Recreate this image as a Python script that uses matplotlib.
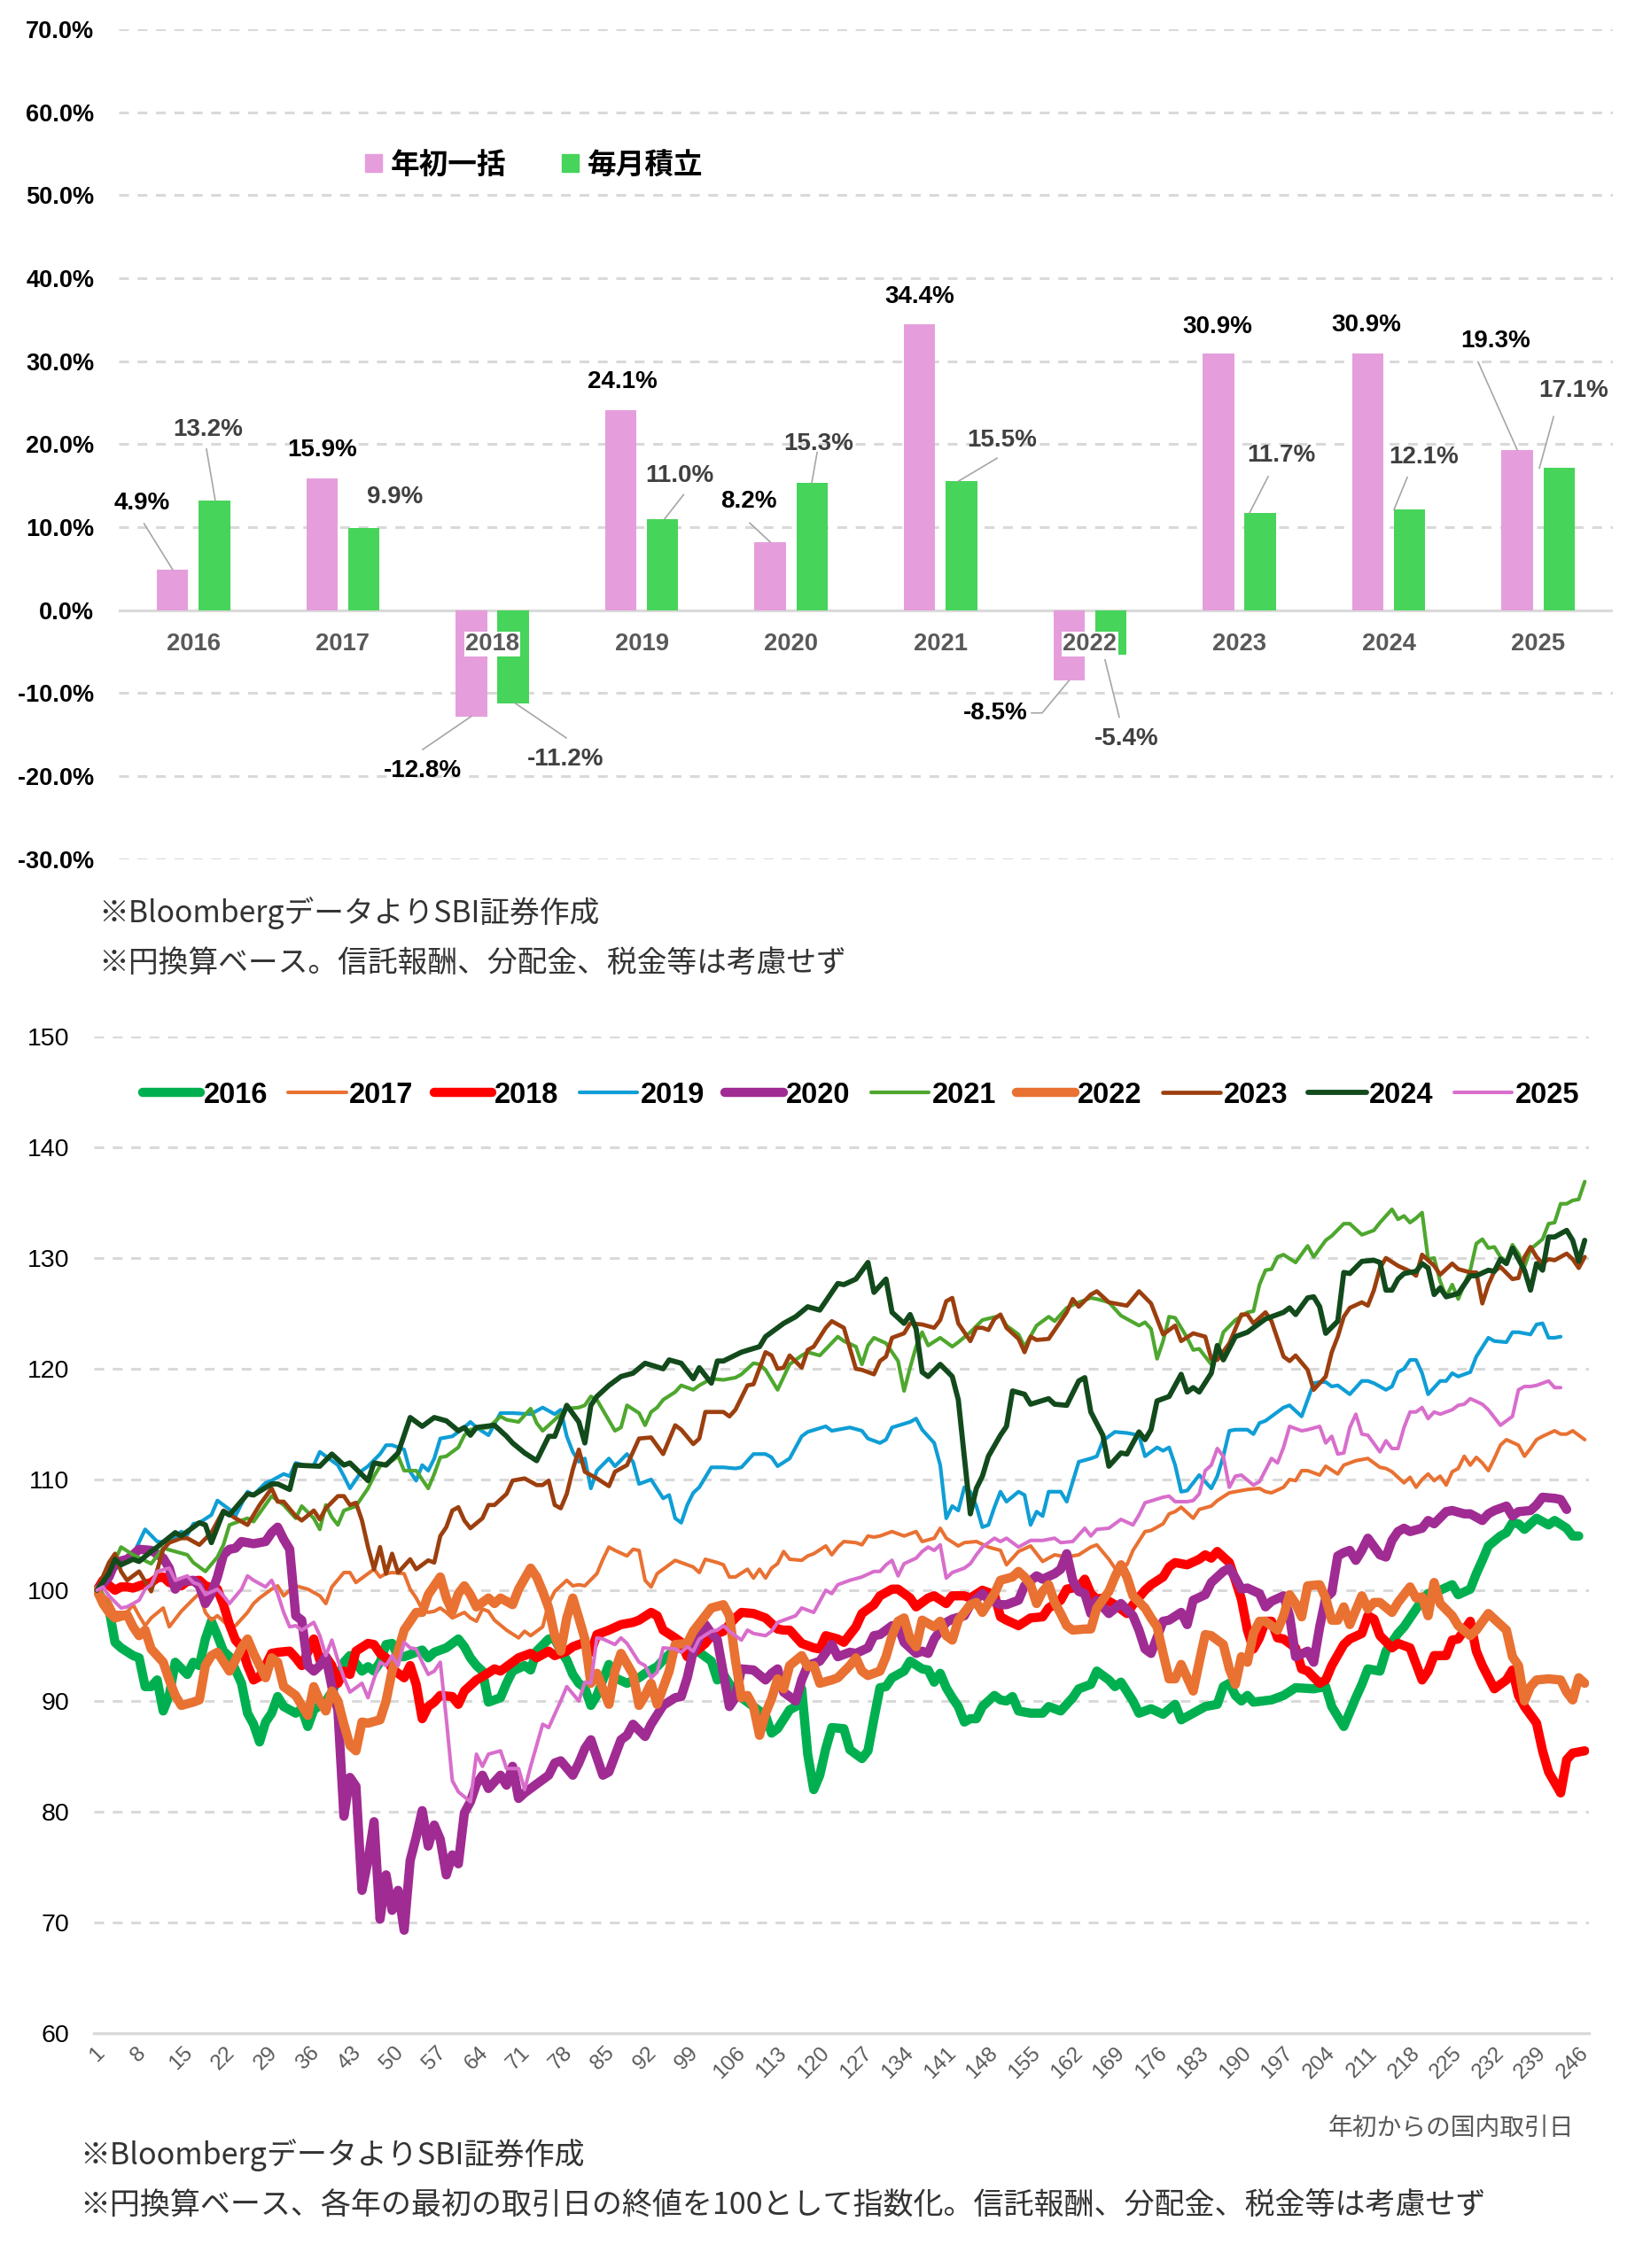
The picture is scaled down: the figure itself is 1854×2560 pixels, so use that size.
import numpy as np
import matplotlib.pyplot as plt
from matplotlib.patches import Patch
from matplotlib.lines import Line2D

plt.rcParams['font.family'] = ['Liberation Sans', 'Noto Sans CJK JP', 'DejaVu Sans']
JP = ['Noto Sans CJK JP', 'DejaVu Sans']

# ---- bar chart data (annual return, %) ----
years = ['2016', '2017', '2018', '2019', '2020', '2021', '2022', '2023', '2024', '2025']
lump_sum = [4.9, 15.9, -12.8, 24.1, 8.2, 34.4, -8.5, 30.9, 30.9, 19.3]
monthly = [13.2, 9.9, -11.2, 11.0, 15.3, 15.5, -5.4, 11.7, 12.1, 17.1]

# ---- line chart data: (trading day, index) ----
s2016 = [(1, 100), (3, 98.3), (4, 95.3), (5, 94.8), (7, 94.1), (8, 93.9), (9, 91.3), (10, 91.3), (11, 91.9),
         (12, 89.1), (13, 90.5), (14, 93.5), (16, 92.4), (17, 93.5), (18, 93.2), (19, 95.6), (20, 97.2),
         (21, 95.9), (22, 94.5), (23, 94.0), (25, 91.6), (26, 88.9), (27, 87.9), (28, 86.3), (29, 88.1),
         (30, 88.9), (31, 90.4), (32, 89.5), (34, 88.9), (35, 89.3), (36, 87.7), (37, 89.2), (39, 90.0),
         (40, 90.8), (41, 91.9), (42, 93.5), (43, 94.1), (45, 92.7), (46, 93.1), (47, 92.7), (48, 93.5),
         (49, 95.1), (50, 95.2), (51, 94.0), (52, 94.0), (54, 94.4), (55, 94.6), (56, 93.9), (57, 94.4),
         (59, 94.8), (61, 95.6), (62, 94.9), (63, 93.9), (64, 93.2), (65, 92.7), (66, 89.9), (68, 90.3),
         (69, 91.6), (70, 92.7), (72, 93.2), (73, 92.8), (74, 94.5), (76, 95.6), (77, 95.6), (78, 94.5),
         (79, 93.7), (80, 92.4), (81, 91.6), (82, 91.2), (83, 89.6), (84, 90.5), (85, 91.9), (86, 93.3),
         (87, 92.1), (89, 91.6), (91, 92.1), (92, 92.5), (94, 93.1), (95, 93.7), (97, 94.7), (98, 94.9),
         (100, 94.5), (101, 94.4), (103, 93.6), (104, 91.9), (105, 92.4), (107, 90.7), (108, 90.3),
         (110, 89.5), (112, 88.7), (113, 87.1), (114, 87.5), (116, 89.2), (117, 89.5), (118, 91.1),
         (119, 85.2), (120, 82.0), (121, 83.3), (122, 85.7), (123, 87.6), (125, 87.5), (126, 85.6),
         (127, 85.2), (128, 84.8), (129, 85.5), (130, 88.4), (131, 91.2), (132, 91.3), (133, 92.1),
         (135, 92.7), (136, 93.6), (138, 92.9), (139, 92.8), (140, 91.7), (141, 92.5), (142, 91.2),
         (143, 90.3), (144, 89.5), (145, 88.1), (146, 88.4), (147, 88.4), (148, 89.5), (150, 90.5),
         (151, 90.1), (152, 90.0), (153, 90.4), (154, 89.1), (156, 88.9), (158, 88.9), (159, 89.5),
         (161, 89.1), (163, 90.3), (164, 91.1), (166, 91.5), (167, 92.7), (169, 91.9), (170, 91.3),
         (171, 91.7), (173, 90.0), (174, 88.9), (176, 89.3), (178, 88.8), (180, 89.7), (181, 88.3),
         (183, 88.9), (185, 89.5), (187, 89.7), (188, 91.3), (189, 91.6), (190, 90.5), (191, 90.0),
         (192, 90.5), (193, 89.9), (196, 90.1), (198, 90.5), (200, 91.2), (203, 91.1), (205, 91.3),
         (206, 89.5), (208, 87.7), (210, 90.3), (211, 91.5), (212, 92.9), (214, 92.7), (215, 94.5),
         (217, 96.1), (218, 96.7), (220, 98.3), (221, 99.1), (222, 99.7), (224, 100.0), (226, 100.5),
         (227, 99.6), (229, 100.1), (230, 101.5), (231, 102.7), (232, 104.0), (234, 104.9), (235, 105.2),
         (236, 106.1), (237, 106.0), (238, 105.5), (240, 106.5), (241, 106.2), (242, 105.9), (243, 106.3),
         (245, 105.6), (246, 104.9), (247, 104.9)]

s2017 = [(1, 100), (3, 99.1), (4, 98.0), (6, 98.0), (7, 98.7), (8, 97.7), (9, 96.8), (10, 97.5), (12, 98.4),
         (13, 96.7), (15, 98.1), (17, 99.2), (18, 99.7), (19, 98.0), (20, 97.3), (21, 97.7), (22, 97.2),
         (23, 96.7), (24, 96.8), (26, 98.0), (27, 98.8), (28, 99.3), (30, 100.1), (31, 100.4), (32, 99.5),
         (33, 100.0), (34, 100.4), (36, 100.1), (38, 99.5), (39, 98.8), (40, 100.3), (42, 101.6), (43, 101.6),
         (44, 100.7), (46, 101.5), (47, 101.9), (48, 101.2), (49, 101.5), (50, 101.6), (52, 101.5),
         (53, 100.1), (54, 99.3), (55, 98.3), (56, 98.0), (57, 98.1), (58, 98.4), (59, 98.0), (60, 97.5),
         (62, 98.0), (63, 97.5), (64, 97.2), (65, 98.3), (66, 98.1), (67, 97.3), (69, 96.4), (71, 95.7),
         (72, 96.3), (73, 95.9), (75, 96.7), (76, 98.8), (77, 99.9), (79, 100.9), (80, 100.4), (81, 100.5),
         (82, 100.4), (84, 101.5), (85, 102.8), (86, 103.9), (87, 103.6), (89, 103.1), (90, 103.7),
         (91, 103.6), (92, 100.9), (93, 100.3), (94, 101.5), (96, 102.3), (97, 102.7), (99, 102.3),
         (100, 102.1), (101, 101.6), (102, 102.8), (104, 102.5), (105, 102.3), (106, 101.2), (107, 101.2),
         (109, 101.9), (110, 101.1), (111, 101.9), (112, 101.1), (113, 102.0), (114, 102.4), (115, 103.5),
         (116, 102.8), (118, 102.7), (119, 103.1), (120, 103.3), (122, 104.0), (123, 103.2), (124, 103.9),
         (125, 104.4), (127, 104.3), (128, 104.1), (129, 104.9), (130, 104.8), (131, 104.9), (133, 105.3),
         (135, 104.9), (137, 105.3), (138, 104.4), (140, 104.7), (141, 105.6), (142, 104.7), (144, 104.0),
         (145, 104.3), (147, 104.4), (149, 103.9), (151, 103.6), (152, 102.3), (154, 103.5), (156, 104.0),
         (158, 102.6), (160, 103.2), (162, 103.0), (164, 103.2), (166, 103.9), (167, 104.1), (169, 102.8),
         (170, 102.0), (171, 102.4), (172, 102.3), (173, 103.6), (175, 105.3), (176, 105.4), (178, 106.0),
         (179, 106.9), (180, 107.1), (181, 107.5), (183, 106.5), (184, 107.3), (186, 107.6), (187, 108.1),
         (189, 108.8), (190, 108.9), (192, 109.1), (194, 109.2), (195, 108.9), (196, 108.8), (198, 109.3),
         (199, 110.0), (200, 109.9), (201, 110.8), (202, 110.8), (204, 110.4), (205, 111.2), (207, 110.5),
         (208, 111.3), (210, 111.7), (211, 111.8), (212, 111.9), (214, 111.1), (215, 111.0), (216, 110.7),
         (218, 109.7), (219, 110.2), (220, 109.3), (221, 110.0), (222, 110.5), (223, 109.9), (224, 110.3),
         (225, 109.5), (226, 110.7), (227, 111.0), (228, 112.1), (229, 111.3), (230, 112.0), (231, 111.5),
         (232, 110.8), (233, 111.9), (234, 113.1), (235, 113.6), (237, 113.1), (238, 112.1), (239, 112.8),
         (240, 113.6), (241, 113.9), (243, 114.4), (244, 114.1), (245, 114.1), (246, 114.4), (247, 114.0),
         (248, 113.6)]

s2018 = [(1, 100), (2, 100.9), (4, 100.0), (5, 100.3), (6, 100.3), (7, 100.2), (8, 100.4), (10, 100.7),
         (11, 101.1), (12, 101.2), (13, 100.7), (15, 100.4), (16, 100.8), (18, 100.9), (19, 100.4),
         (21, 100.1), (22, 98.7), (23, 96.9), (24, 95.5), (25, 94.9), (26, 93.2), (27, 91.9), (28, 92.2),
         (29, 93.2), (30, 94.3), (31, 94.4), (33, 94.5), (34, 93.9), (35, 93.2), (37, 95.6), (38, 93.7),
         (39, 94.0), (40, 93.2), (41, 91.6), (42, 92.7), (43, 92.4), (44, 94.5), (46, 95.2), (47, 95.1),
         (48, 94.3), (49, 93.9), (50, 92.9), (52, 92.1), (53, 93.2), (54, 91.5), (55, 88.4), (56, 89.5),
         (57, 89.9), (58, 90.5), (60, 90.4), (61, 89.7), (62, 90.9), (64, 91.9), (65, 92.2), (67, 92.9),
         (68, 92.7), (70, 93.5), (71, 93.9), (73, 94.3), (74, 93.9), (76, 94.5), (77, 94.1), (79, 94.5),
         (80, 94.9), (81, 95.1), (82, 95.3), (83, 94.4), (84, 96.0), (86, 96.4), (88, 96.9), (90, 97.1),
         (91, 97.3), (93, 98.0), (94, 97.7), (95, 96.4), (97, 95.7), (98, 95.3), (99, 94.0), (100, 94.3),
         (102, 95.2), (103, 95.9), (105, 96.3), (107, 97.5), (108, 98.0), (110, 97.9), (112, 97.5),
         (114, 96.5), (115, 96.4), (116, 96.4), (118, 95.2), (120, 94.8), (121, 94.7), (122, 95.9),
         (124, 95.6), (125, 95.3), (127, 96.7), (128, 97.9), (130, 98.7), (131, 99.5), (133, 100.1),
         (134, 100.1), (136, 99.3), (137, 98.5), (139, 99.3), (140, 99.5), (142, 98.8), (143, 99.5),
         (145, 99.5), (146, 99.3), (148, 100.0), (150, 99.6), (151, 97.6), (152, 97.3), (154, 96.8),
         (156, 97.5), (158, 97.6), (159, 98.4), (161, 99.1), (162, 100.1), (164, 100.3), (165, 101.0),
         (166, 99.7), (167, 99.2), (168, 99.3), (170, 98.7), (172, 97.9), (173, 98.7), (175, 100.0),
         (176, 100.5), (178, 101.2), (179, 102.1), (180, 102.5), (182, 102.3), (184, 102.8), (185, 103.2),
         (186, 102.9), (187, 103.5), (189, 102.5), (190, 100.9), (191, 99.2), (192, 96.4), (193, 94.7),
         (194, 95.7), (195, 97.2), (196, 97.2), (197, 95.7), (198, 95.6), (200, 94.8), (201, 92.9),
         (202, 92.7), (204, 91.6), (205, 91.9), (206, 93.2), (208, 95.1), (209, 95.6), (211, 96.1),
         (212, 97.7), (213, 97.4), (214, 95.9), (216, 94.8), (217, 95.2), (219, 94.8), (221, 91.9),
         (222, 92.7), (223, 94.1), (225, 94.1), (226, 95.5), (227, 95.6), (229, 97.2), (230, 94.5),
         (231, 93.2), (233, 91.1), (235, 91.9), (236, 92.8), (237, 90.5), (238, 89.5), (240, 88.0),
         (241, 85.5), (242, 83.6), (244, 81.7), (245, 84.7), (246, 85.3), (248, 85.5)]

s2019 = [(1, 100), (3, 101.5), (5, 102.3), (7, 103.2), (9, 105.5), (11, 104.4), (13, 104.3), (15, 105.3),
         (16, 105.0), (17, 106.0), (18, 106.1), (20, 106.8), (21, 108.1), (23, 107.3), (24, 106.7),
         (26, 108.9), (27, 108.6), (29, 109.7), (30, 109.9), (32, 110.5), (33, 110.3), (34, 111.5),
         (36, 111.2), (37, 111.3), (38, 112.5), (39, 112.1), (41, 111.3), (42, 110.3), (43, 109.2),
         (45, 110.8), (46, 111.2), (48, 112.3), (49, 113.1), (50, 113.1), (52, 112.7), (53, 110.7),
         (54, 109.9), (55, 111.3), (56, 110.8), (57, 111.9), (58, 113.7), (60, 113.9), (62, 114.7),
         (63, 115.2), (64, 114.7), (66, 114.0), (68, 116.0), (70, 116.0), (73, 115.9), (75, 116.5),
         (77, 115.9), (78, 116.3), (79, 113.9), (80, 112.5), (81, 111.6), (82, 111.9), (83, 109.2),
         (84, 110.8), (86, 111.9), (87, 111.2), (89, 112.3), (90, 111.6), (91, 109.6), (93, 110.0),
         (95, 108.3), (96, 108.6), (97, 106.5), (98, 106.1), (99, 107.7), (100, 108.8), (101, 109.3),
         (103, 111.1), (105, 111.1), (107, 111.0), (108, 111.1), (110, 112.3), (112, 112.3), (113, 112.0),
         (114, 111.2), (116, 111.9), (118, 113.9), (119, 114.3), (122, 114.8), (123, 114.4), (126, 114.7),
         (128, 114.4), (129, 113.7), (131, 113.3), (132, 113.6), (133, 114.7), (136, 115.2), (137, 115.5),
         (138, 114.5), (140, 113.3), (141, 111.3), (142, 106.5), (143, 107.6), (144, 107.2), (145, 109.3),
         (146, 108.9), (147, 107.6), (148, 105.7), (149, 105.9), (150, 107.5), (151, 108.9), (152, 108.0),
         (154, 108.9), (155, 108.6), (156, 105.9), (157, 107.1), (158, 106.7), (159, 108.9), (161, 108.9),
         (162, 108.0), (164, 111.6), (166, 111.9), (167, 112.1), (168, 113.5), (170, 114.3), (172, 114.2),
         (174, 114.0), (175, 112.1), (177, 112.9), (178, 112.6), (179, 112.9), (180, 111.3), (181, 108.9),
         (182, 109.0), (184, 110.4), (186, 109.2), (187, 110.3), (188, 112.1), (189, 114.4), (190, 114.5),
         (192, 114.5), (193, 114.1), (194, 115.1), (195, 115.3), (197, 116.1), (198, 116.5), (199, 116.7),
         (201, 115.7), (202, 117.2), (203, 118.7), (204, 118.8), (205, 118.8), (206, 118.4), (207, 118.5),
         (209, 117.7), (211, 118.9), (212, 118.9), (213, 118.7), (215, 118.1), (216, 118.4), (217, 119.7),
         (218, 120.0), (219, 120.8), (220, 120.8), (221, 119.6), (222, 117.7), (224, 118.9), (225, 118.9),
         (226, 119.6), (227, 119.3), (229, 119.7), (230, 121.1), (232, 122.8), (233, 122.5), (235, 122.4),
         (236, 123.3), (237, 123.3), (239, 123.1), (240, 124.0), (241, 124.1), (242, 122.8), (243, 122.8),
         (244, 122.9)]

s2020 = [(1, 100), (3, 101.2), (4, 102.5), (6, 102.8), (7, 103.2), (8, 103.7), (10, 103.6), (12, 102.9),
         (13, 102.0), (14, 100.1), (15, 100.8), (17, 100.9), (18, 100.4), (19, 98.8), (20, 99.7), (21, 101.2),
         (22, 103.2), (23, 103.7), (24, 103.8), (25, 104.4), (27, 104.2), (29, 104.4), (30, 105.2),
         (31, 105.7), (32, 104.6), (33, 103.7), (34, 97.7), (35, 97.3), (36, 93.2), (37, 92.7), (38, 93.2),
         (39, 94.0), (40, 91.3), (41, 89.2), (42, 79.6), (43, 83.1), (44, 82.3), (45, 72.9), (46, 75.6),
         (47, 79.1), (48, 70.3), (49, 74.3), (50, 71.1), (51, 72.9), (52, 69.3), (53, 75.6), (54, 77.7),
         (55, 80.1), (56, 76.9), (57, 78.8), (58, 77.5), (59, 74.3), (60, 76.1), (61, 75.3), (62, 79.9),
         (63, 80.9), (64, 82.5), (65, 83.3), (66, 82.1), (68, 83.3), (69, 82.4), (70, 84.1), (71, 81.2),
         (72, 81.7), (74, 82.5), (76, 83.3), (77, 84.4), (78, 84.6), (80, 83.3), (81, 84.4), (82, 85.7),
         (83, 86.5), (85, 83.3), (86, 83.6), (88, 86.5), (89, 86.9), (90, 87.9), (92, 86.8), (93, 87.9),
         (95, 89.6), (97, 90.3), (98, 90.4), (99, 92.1), (100, 94.5), (102, 96.9), (103, 96.1), (104, 95.5),
         (106, 89.5), (107, 90.3), (108, 92.9), (110, 92.8), (112, 91.9), (113, 92.5), (114, 92.9),
         (115, 90.8), (117, 90.0), (118, 91.9), (119, 93.2), (121, 93.6), (123, 95.1), (124, 94.0),
         (126, 94.4), (127, 94.3), (129, 94.8), (130, 95.9), (131, 96.0), (133, 96.8), (134, 96.8),
         (135, 95.3), (137, 94.3), (138, 94.5), (139, 94.3), (140, 95.6), (142, 97.1), (143, 97.4),
         (145, 97.7), (146, 98.7), (148, 99.7), (149, 99.2), (151, 98.7), (152, 98.7), (154, 99.1),
         (155, 100.4), (157, 101.3), (158, 101.0), (160, 101.5), (161, 101.9), (162, 103.3), (163, 100.9),
         (164, 99.9), (165, 99.7), (166, 97.9), (167, 99.1), (169, 97.9), (171, 98.8), (173, 97.7),
         (174, 96.4), (175, 94.7), (176, 94.3), (178, 97.2), (179, 97.3), (181, 98.0), (182, 96.9),
         (183, 99.1), (185, 99.6), (186, 100.7), (188, 101.7), (189, 102.0), (190, 101.1), (191, 100.1),
         (192, 100.2), (194, 99.7), (195, 98.5), (196, 99.0), (198, 99.5), (199, 97.7), (200, 94.0),
         (202, 94.5), (203, 93.5), (204, 96.7), (205, 99.3), (206, 99.8), (207, 103.1), (208, 103.4),
         (209, 103.6), (210, 102.7), (211, 103.6), (212, 104.7), (214, 103.2), (215, 103.0), (216, 104.5),
         (217, 105.3), (218, 105.6), (219, 105.3), (221, 105.6), (222, 106.3), (223, 106.0), (225, 107.1),
         (226, 107.2), (228, 106.9), (229, 106.9), (231, 106.3), (232, 106.9), (233, 107.2), (235, 107.6),
         (236, 106.7), (237, 107.1), (239, 107.2), (240, 107.7), (241, 108.4), (243, 108.3), (244, 108.2),
         (245, 107.3)]

s2021 = [(1, 100), (3, 101.5), (5, 103.9), (7, 103.2), (10, 102.4), (12, 103.8), (14, 103.5), (16, 103.2),
         (17, 102.5), (19, 101.7), (21, 103.0), (22, 104.1), (23, 105.9), (26, 106.5), (27, 106.2),
         (30, 108.5), (32, 107.7), (34, 106.5), (35, 107.6), (37, 106.5), (38, 105.5), (39, 107.7),
         (40, 106.6), (41, 105.9), (42, 107.2), (44, 107.6), (46, 109.2), (47, 110.3), (48, 111.2),
         (50, 111.7), (51, 112.1), (52, 110.8), (54, 110.8), (56, 109.2), (57, 110.5), (58, 112.0),
         (59, 112.1), (61, 112.9), (62, 114.0), (63, 114.5), (64, 114.6), (66, 114.7), (68, 115.7),
         (69, 115.4), (71, 115.2), (73, 116.4), (74, 115.1), (75, 114.4), (76, 114.9), (78, 115.9),
         (79, 116.4), (81, 116.5), (82, 116.7), (83, 117.5), (84, 117.2), (87, 114.4), (88, 114.7),
         (89, 116.7), (91, 116.0), (92, 114.9), (93, 116.1), (94, 116.5), (95, 117.2), (97, 117.9),
         (98, 118.5), (100, 118.1), (101, 118.5), (103, 119.1), (105, 119.0), (107, 119.2), (108, 119.5),
         (110, 120.5), (111, 120.4), (112, 119.9), (114, 118.1), (116, 120.4), (118, 121.2), (119, 121.5),
         (121, 121.2), (124, 122.9), (125, 122.5), (127, 122.0), (128, 120.4), (129, 122.1), (130, 122.8),
         (132, 122.3), (133, 121.5), (134, 120.7), (135, 118.0), (136, 120.1), (137, 122.0), (138, 123.3),
         (139, 122.1), (141, 122.8), (143, 122.0), (144, 122.4), (146, 123.3), (148, 124.4), (151, 124.8),
         (152, 123.9), (154, 123.1), (155, 122.0), (157, 123.9), (159, 124.7), (160, 124.3), (162, 125.5),
         (164, 126.0), (166, 126.4), (167, 126.3), (169, 126.0), (171, 124.8), (172, 124.5), (174, 123.9),
         (175, 124.2), (176, 123.6), (177, 120.9), (178, 122.5), (179, 124.7), (180, 124.6), (182, 122.8),
         (183, 121.7), (184, 121.8), (186, 120.4), (187, 121.4), (188, 123.3), (190, 124.4), (192, 125.1),
         (193, 125.2), (194, 127.6), (195, 128.9), (196, 129.0), (197, 130.1), (198, 130.3), (200, 129.6),
         (202, 131.1), (203, 130.1), (205, 131.6), (206, 132.0), (208, 133.1), (209, 133.1), (211, 132.1),
         (213, 132.5), (214, 133.2), (216, 134.4), (217, 133.5), (218, 133.8), (219, 133.2), (220, 133.6),
         (221, 134.1), (222, 129.9), (223, 130.0), (224, 127.9), (225, 126.5), (226, 127.6), (227, 126.3),
         (229, 128.9), (230, 131.3), (231, 131.7), (232, 130.9), (233, 131.0), (234, 130.1), (235, 129.7),
         (236, 131.2), (237, 130.4), (238, 129.2), (239, 130.8), (241, 131.7), (242, 133.1), (243, 133.2),
         (244, 134.9), (245, 134.9), (246, 135.2), (247, 135.3), (248, 136.9)]

s2022 = [(1, 100), (2, 98.8), (3, 98.0), (4, 97.5), (6, 97.8), (7, 96.7), (8, 95.9), (9, 96.4), (10, 94.7),
         (12, 93.5), (13, 91.9), (14, 90.5), (15, 89.6), (17, 89.9), (18, 90.1), (19, 93.2), (20, 94.1),
         (21, 94.4), (23, 92.7), (24, 93.7), (25, 94.8), (26, 95.6), (27, 94.3), (29, 92.1), (30, 93.9),
         (31, 93.5), (32, 91.3), (34, 90.5), (35, 89.6), (36, 88.7), (37, 91.3), (38, 90.0), (39, 89.1),
         (40, 90.9), (41, 90.0), (42, 87.9), (43, 86.0), (44, 85.5), (45, 88.1), (46, 88.0), (48, 88.3),
         (49, 90.0), (50, 92.7), (51, 94.5), (52, 96.4), (53, 97.2), (54, 98.0), (55, 98.0), (56, 99.6),
         (58, 101.2), (59, 99.3), (60, 98.1), (61, 99.7), (62, 100.4), (63, 99.6), (64, 98.5), (66, 99.3),
         (67, 98.8), (68, 99.3), (70, 98.7), (71, 100.1), (73, 102.0), (74, 101.2), (75, 99.9), (76, 98.4),
         (77, 95.9), (78, 94.5), (79, 97.5), (80, 99.3), (81, 97.5), (82, 95.6), (83, 91.6), (84, 92.5),
         (86, 89.7), (87, 92.7), (88, 94.3), (90, 92.4), (91, 89.6), (92, 90.5), (93, 91.6), (94, 89.7),
         (96, 92.7), (97, 95.1), (99, 95.2), (100, 96.3), (102, 97.7), (103, 98.4), (105, 98.7), (106, 97.7),
         (107, 93.7), (108, 90.3), (109, 90.5), (110, 89.5), (111, 86.9), (112, 88.9), (113, 90.2),
         (114, 92.0), (115, 91.1), (116, 93.2), (118, 94.1), (119, 93.1), (120, 93.2), (121, 91.6),
         (123, 91.9), (124, 92.1), (126, 93.2), (127, 93.9), (128, 92.7), (129, 92.3), (131, 92.7),
         (132, 94.0), (133, 95.9), (134, 97.2), (135, 97.5), (136, 95.6), (137, 94.9), (138, 97.3),
         (140, 96.7), (141, 97.2), (142, 95.9), (143, 95.5), (144, 97.3), (146, 98.7), (147, 98.9),
         (148, 98.0), (150, 99.7), (151, 100.9), (153, 101.2), (154, 101.7), (155, 101.2), (156, 100.5),
         (157, 98.8), (158, 99.9), (159, 100.5), (160, 98.9), (161, 97.9), (162, 96.8), (163, 96.4),
         (165, 96.5), (166, 96.5), (167, 98.4), (169, 99.9), (170, 101.2), (171, 102.3), (172, 101.2),
         (173, 99.5), (175, 98.4), (176, 97.5), (177, 96.7), (178, 94.3), (179, 92.0), (180, 92.0),
         (181, 93.3), (182, 92.1), (183, 90.9), (184, 93.5), (185, 96.0), (186, 95.9), (188, 95.1),
         (189, 92.9), (190, 91.5), (191, 94.0), (192, 93.5), (193, 96.1), (194, 97.2), (195, 97.2),
         (197, 96.4), (198, 97.7), (199, 99.6), (200, 98.8), (201, 97.6), (202, 100.4), (204, 100.5),
         (205, 99.3), (206, 97.3), (207, 97.3), (208, 98.5), (209, 96.9), (211, 99.5), (212, 98.3),
         (213, 98.9), (214, 98.9), (216, 98.0), (217, 98.9), (219, 100.3), (220, 99.3), (221, 99.4),
         (222, 97.7), (223, 100.7), (224, 98.8), (226, 97.7), (227, 96.8), (229, 95.9), (230, 96.4),
         (232, 97.9), (233, 97.4), (235, 96.4), (236, 94.0), (237, 93.2), (238, 90.0), (239, 91.3),
         (240, 91.9), (242, 92.0), (244, 91.9), (245, 90.8), (246, 90.1), (247, 92.1), (248, 91.6)]

s2023 = [(1, 100), (3, 102.5), (4, 103.3), (5, 101.7), (6, 100.9), (8, 101.7), (10, 99.9), (12, 103.7),
         (13, 104.3), (15, 104.7), (16, 104.7), (18, 104.1), (20, 105.2), (22, 107.2), (24, 106.5),
         (26, 105.9), (28, 107.7), (30, 109.2), (31, 108.0), (32, 108.0), (34, 106.7), (35, 106.3),
         (37, 107.2), (38, 106.4), (39, 107.4), (41, 108.5), (42, 108.5), (43, 107.7), (44, 107.9),
         (45, 106.3), (46, 103.9), (47, 101.9), (48, 103.9), (49, 101.5), (50, 103.3), (51, 101.6),
         (53, 102.8), (54, 101.9), (56, 102.7), (57, 102.5), (58, 104.9), (59, 105.7), (60, 107.2),
         (61, 107.5), (62, 106.3), (63, 105.6), (65, 106.5), (66, 107.7), (67, 107.7), (69, 108.7),
         (70, 109.9), (72, 110.1), (74, 109.5), (75, 109.5), (76, 109.9), (77, 107.7), (78, 107.4),
         (79, 108.7), (80, 110.9), (81, 112.7), (82, 110.7), (84, 110.1), (86, 109.4), (87, 110.7),
         (89, 111.3), (91, 113.7), (93, 113.8), (95, 112.3), (97, 114.9), (98, 114.5), (100, 113.2),
         (101, 113.7), (102, 116.1), (103, 116.1), (105, 116.1), (106, 115.7), (107, 116.3), (109, 118.5),
         (110, 118.6), (112, 121.5), (113, 121.2), (114, 120.0), (115, 120.1), (116, 121.2), (118, 120.1),
         (119, 121.7), (120, 122.0), (122, 123.7), (123, 124.3), (125, 123.7), (127, 120.0), (128, 119.9),
         (130, 119.5), (131, 120.7), (132, 121.1), (133, 122.8), (135, 123.2), (136, 124.1), (138, 124.0),
         (140, 123.7), (141, 124.4), (142, 126.1), (143, 126.4), (144, 124.1), (146, 122.5), (147, 123.7),
         (148, 123.7), (149, 123.5), (150, 124.5), (151, 124.9), (152, 123.7), (154, 122.7), (155, 121.5),
         (156, 122.9), (157, 122.6), (159, 122.7), (160, 123.5), (162, 125.1), (163, 126.3), (164, 125.6),
         (166, 126.7), (167, 127.0), (169, 126.0), (170, 125.9), (172, 125.7), (174, 127.0), (176, 125.9),
         (178, 123.1), (180, 123.9), (181, 122.5), (183, 123.2), (185, 122.9), (186, 120.9), (187, 120.8),
         (189, 122.3), (191, 124.9), (192, 124.9), (193, 124.1), (195, 125.1), (196, 124.3), (198, 121.1),
         (199, 120.7), (200, 121.2), (202, 119.9), (203, 118.1), (205, 119.3), (206, 121.5), (207, 122.9),
         (208, 124.7), (209, 125.5), (211, 126.0), (212, 125.7), (213, 127.1), (214, 129.1), (215, 130.0),
         (217, 129.3), (219, 128.8), (220, 128.4), (221, 130.3), (223, 129.3), (224, 128.5), (226, 129.5),
         (227, 129.0), (229, 128.7), (230, 128.7), (231, 125.9), (232, 127.6), (233, 128.8), (234, 129.2),
         (236, 128.1), (237, 128.2), (238, 130.1), (239, 131.0), (240, 130.1), (241, 129.5), (242, 129.9),
         (243, 129.8), (245, 130.4), (246, 129.9), (247, 129.1), (248, 130.1)]

s2024 = [(1, 100), (3, 101.5), (4, 102.8), (5, 102.3), (7, 102.8), (8, 102.6), (10, 103.5), (11, 103.9),
         (14, 105.2), (15, 104.9), (18, 106.1), (19, 105.9), (20, 104.3), (22, 107.1), (23, 106.8),
         (26, 108.7), (27, 108.6), (30, 109.6), (31, 109.6), (33, 109.1), (34, 111.3), (38, 111.2),
         (40, 112.3), (42, 111.3), (43, 111.5), (46, 109.9), (47, 111.5), (49, 111.3), (51, 112.4),
         (53, 115.6), (55, 114.8), (57, 115.6), (59, 115.3), (61, 114.4), (62, 114.7), (63, 114.0),
         (64, 114.7), (67, 114.9), (69, 113.9), (70, 113.3), (72, 112.4), (74, 111.7), (76, 113.9),
         (77, 113.9), (79, 116.7), (81, 115.2), (82, 113.3), (83, 116.7), (84, 117.5), (86, 118.5),
         (88, 119.3), (90, 119.6), (92, 120.5), (95, 120.0), (96, 120.8), (98, 120.5), (100, 119.1),
         (101, 120.1), (103, 118.7), (104, 120.7), (105, 120.7), (108, 121.5), (111, 122.0), (112, 122.9),
         (115, 124.1), (117, 124.7), (119, 125.6), (121, 125.3), (124, 127.7), (125, 127.6), (127, 128.1),
         (129, 129.6), (130, 126.9), (132, 128.1), (133, 125.1), (135, 124.1), (136, 124.9), (137, 123.6),
         (138, 119.7), (139, 119.3), (141, 120.4), (143, 119.3), (144, 117.2), (146, 106.9), (147, 109.2),
         (148, 110.3), (149, 112.1), (151, 114.0), (152, 114.8), (153, 118.0), (155, 117.7), (156, 116.8),
         (159, 117.3), (160, 116.8), (162, 116.7), (164, 118.9), (165, 119.2), (166, 116.1), (168, 114.0),
         (169, 111.2), (171, 112.4), (172, 112.3), (174, 114.3), (175, 113.6), (176, 114.5), (177, 117.1),
         (179, 117.5), (181, 119.5), (182, 117.9), (183, 118.3), (184, 117.9), (186, 119.6), (187, 122.1),
         (188, 120.8), (190, 122.9), (192, 123.3), (195, 124.5), (198, 125.1), (199, 125.5), (200, 124.9),
         (202, 126.4), (203, 126.5), (204, 125.6), (205, 123.2), (207, 124.3), (208, 128.7), (209, 128.6),
         (211, 129.7), (213, 129.8), (214, 129.6), (215, 127.1), (216, 127.1), (217, 128.1), (218, 128.6),
         (220, 128.8), (221, 129.5), (222, 129.1), (223, 126.7), (224, 127.3), (225, 126.5), (227, 126.8),
         (229, 128.4), (230, 128.4), (232, 128.9), (233, 128.8), (234, 129.9), (235, 129.5), (236, 130.9),
         (238, 128.9), (239, 127.1), (240, 129.5), (241, 128.9), (242, 131.9), (243, 131.9), (245, 132.5),
         (246, 131.6), (247, 129.7), (248, 131.6)]

s2025 = [(1, 100), (2, 100.3), (3, 99.5), (5, 98.4), (6, 98.5), (7, 98.8), (8, 99.1), (9, 100.1), (10, 100.5),
         (11, 101.7), (13, 102.0), (14, 100.9), (16, 101.3), (17, 100.7), (18, 100.5), (19, 99.6), (21, 100.1),
         (22, 99.5), (23, 98.8), (25, 100.1), (26, 101.3), (27, 100.9), (29, 100.3), (30, 100.9), (31, 99.7),
         (32, 98.0), (33, 96.7), (34, 96.8), (35, 96.4), (37, 97.1), (38, 95.9), (39, 94.1), (40, 95.5),
         (41, 93.7), (42, 92.1), (43, 90.8), (45, 91.6), (46, 90.3), (47, 92.0), (48, 93.5), (49, 93.2),
         (50, 94.1), (51, 93.2), (52, 95.3), (53, 94.8), (54, 94.7), (55, 93.5), (56, 92.4), (57, 92.7),
         (58, 93.5), (59, 88.4), (60, 82.8), (61, 81.8), (63, 80.9), (64, 85.2), (65, 84.1), (66, 85.2),
         (68, 85.5), (69, 83.9), (71, 83.9), (72, 82.0), (73, 84.1), (74, 86.0), (75, 87.9), (76, 87.6),
         (78, 90.0), (79, 91.3), (81, 90.0), (82, 91.7), (83, 91.6), (84, 95.7), (85, 95.6), (87, 95.1),
         (88, 95.7), (89, 95.2), (91, 93.5), (92, 93.2), (93, 92.1), (94, 92.6), (95, 94.8), (97, 94.7),
         (98, 94.4), (99, 94.9), (100, 94.5), (101, 95.6), (103, 96.3), (104, 96.4), (105, 96.8),
         (106, 96.3), (108, 95.5), (109, 96.4), (110, 96.1), (112, 95.9), (113, 96.3), (114, 97.1),
         (116, 97.5), (117, 97.7), (118, 98.4), (120, 98.0), (122, 100.0), (123, 99.7), (124, 100.5),
         (126, 100.9), (128, 101.2), (130, 101.7), (131, 101.7), (132, 102.3), (133, 102.7), (134, 101.3),
         (135, 102.4), (137, 102.9), (138, 103.5), (139, 103.9), (140, 103.6), (141, 104.1), (142, 101.1),
         (143, 101.6), (145, 102.0), (146, 102.4), (147, 103.2), (148, 103.9), (150, 104.7), (151, 104.4),
         (152, 104.7), (154, 103.9), (156, 104.5), (158, 104.5), (160, 104.7), (161, 104.3), (163, 104.4),
         (165, 105.6), (166, 104.9), (167, 105.5), (169, 105.6), (171, 106.4), (173, 105.9), (174, 106.8),
         (175, 107.9), (178, 108.4), (179, 108.5), (180, 108.0), (182, 108.0), (183, 108.1), (184, 108.7),
         (185, 110.8), (186, 111.3), (187, 112.8), (188, 112.1), (189, 109.3), (190, 110.3), (191, 110.4),
         (193, 109.5), (194, 109.8), (196, 111.9), (197, 111.5), (198, 112.9), (199, 114.8), (201, 114.4),
         (202, 114.5), (204, 114.8), (205, 113.3), (206, 113.9), (207, 112.3), (208, 112.4), (209, 114.7),
         (210, 115.9), (211, 114.1), (212, 114.0), (214, 112.5), (215, 113.5), (216, 112.8), (217, 112.8),
         (218, 114.7), (219, 116.1), (220, 116.1), (221, 116.5), (222, 115.5), (223, 116.1), (224, 115.9),
         (226, 116.3), (227, 116.7), (228, 116.8), (229, 117.3), (231, 116.8), (232, 116.3), (233, 115.6),
         (234, 114.9), (236, 115.7), (237, 118.1), (238, 118.4), (239, 118.4), (240, 118.5), (242, 118.9),
         (243, 118.3), (244, 118.3)]

series = [s2016, s2017, s2018, s2019, s2020, s2021, s2022, s2023, s2024, s2025]
day_ticks = list(range(1, 247, 7))

# ---- styling ----
line_colors = ['#00B050', '#E97132', '#FF0000', '#0F9ED5', '#A02B93',
               '#4EA72E', '#E97132', '#9C3F0E', '#124A1C', '#D86ECC']
line_widths = [7.5, 2.9, 7.5, 3.0, 7.5, 3.0, 7.5, 3.4, 4.2, 2.9]
pink, green = '#E59EDB', '#47D45A'
grid_c = '#D9D9D9'
dash = (0, (3.6, 3.2))

W, H = 1854, 2560
fig = plt.figure(figsize=(W / 100, H / 100), dpi=100)

# ================= top: bar chart =================
ax1 = fig.add_axes([134 / W, 1 - 969.6 / H, (1820 - 134) / W, (969.6 - 33) / H])
x = np.arange(len(years))
ax1.bar(x - 0.14, lump_sum, width=0.21, color=pink, zorder=3)
ax1.bar(x + 0.14, monthly, width=0.21, color=green, zorder=3)
ax1.set_xlim(-0.5, 9.5)
ax1.set_ylim(-30, 70)
yt = np.arange(-30, 71, 10)
for v in yt:
    if v == 0:
        ax1.axhline(0, color=grid_c, lw=2.3, zorder=2)
    else:
        ax1.axhline(v, color=grid_c, lw=2.2, ls=dash, zorder=1)
ax1.set_yticks(yt)
ax1.set_yticklabels([f'{v:.1f}%' for v in yt], fontsize=19.5, fontweight='bold')
ax1.tick_params(axis='y', length=0, pad=20)
ax1.set_xticks([])
for s in ax1.spines.values():
    s.set_visible(False)

for i, y in enumerate(years):
    ax1.text(i, -4.1, y, ha='center', va='center', fontsize=19.7, fontweight='bold', color='#595959',
             zorder=4, bbox=dict(boxstyle='square,pad=0.05', fc='white', ec='none'))

# value label positions (data coords) and leader start / end points
pink_lab = [(-0.346, 12.9), (0.864, 19.3), (1.534, -19.4), (2.869, 27.5), (3.717, 13.1),
            (4.862, 37.8), (5.366, -12.4), (6.855, 34.1), (7.851, 34.3), (8.717, 32.4)]
pink_lead = [[(-0.33, 10.4)], None, [(1.535, -16.8)], None, [(3.723, 10.5)],
             None, [(5.609, -12.4), (5.68, -12.4)], None, None, [(8.598, 29.9)]]
green_lab = [(0.099, 21.7), (1.35, 13.6), (2.489, -18.0), (3.254, 16.2), (4.186, 20.0),
             (5.413, 20.5), (6.244, -15.5), (7.282, 18.6), (8.237, 18.4), (9.239, 26.4)]
green_lead = [(0.087, 19.4), None, (2.495, -15.4), (3.28, 13.9), (4.174, 19.0),
              (5.378, 18.3), (6.196, -12.9), (7.193, 16.1), (8.124, 16.0), (9.103, 23.3)]
green_end = [(0.146, 13.2), None, (2.151, -11.2), (3.154, 11.0), (4.138, 15.3),
             (5.117, 15.5), (6.101, -6.0), (7.068, 11.7), (8.035, 12.1), (9.008, 17.1)]
lead_c = '#A6A6A6'
for i in range(len(years)):
    px, py = pink_lab[i]
    ax1.text(px, py, f'{lump_sum[i]:.1f}%', ha='center', va='center', fontsize=20,
             fontweight='bold', color='black', zorder=5)
    if pink_lead[i] is not None:
        pts = pink_lead[i] + [(i - 0.14, lump_sum[i])]
        ax1.plot([p[0] for p in pts], [p[1] for p in pts], color=lead_c, lw=1.2, zorder=4)
    gx, gy = green_lab[i]
    ax1.text(gx, gy, f'{monthly[i]:.1f}%', ha='center', va='center', fontsize=20,
             fontweight='bold', color='#404040', zorder=5)
    if green_lead[i] is not None:
        lx, ly = green_lead[i]
        ex, ey = green_end[i]
        ax1.plot([lx, ex], [ly, ey], color=lead_c, lw=1.2, zorder=4)

ax1.legend(handles=[Patch(color=pink, label='年初一括'), Patch(color=green, label='毎月積立')],
           loc='center', bbox_to_anchor=(0.278, 0.8366), ncol=2, frameon=False,
           handlelength=0.6, handleheight=0.6, handletextpad=0.3, columnspacing=1.9,
           prop={'family': JP, 'weight': 'bold', 'size': 23.5})

fig.text(111 / W, 1 - 1031 / H, '※BloombergデータよりSBI証券作成', family=JP, fontsize=24.3,
         color='#333333', va='center', ha='left')
fig.text(111 / W, 1 - 1087 / H, '※円換算ベース。信託報酬、分配金、税金等は考慮せず', family=JP, fontsize=24.3,
         color='#333333', va='center', ha='left')

# ================= bottom: line chart =================
ax2 = fig.add_axes([106 / W, 1 - 2295 / H, (1793 - 106) / W, (2295 - 1170) / H])
for yv in range(70, 151, 10):
    ax2.axhline(yv, color=grid_c, lw=2.2, ls=dash, zorder=1)
handles = []
for s, c, lw, yr in zip(series, line_colors, line_widths, years):
    d = [p[0] for p in s]
    v = [p[1] for p in s]
    ax2.plot(d, v, color=c, lw=lw, solid_joinstyle='round', solid_capstyle='round', zorder=3)
    handles.append(Line2D([], [], color=c, lw=lw, solid_capstyle='round', label=yr))
ax2.set_xlim(0.5, 248.7)
ax2.set_ylim(60, 150)
ax2.set_yticks(range(60, 151, 10))
ax2.tick_params(axis='y', length=0, pad=20, labelsize=20.5)
ax2.set_xticks(day_ticks)
ax2.set_xticklabels([str(t) for t in day_ticks], rotation=45, ha='center', va='top',
                    fontsize=17.5, color='#595959')
ax2.tick_params(axis='x', length=0, pad=8)
for k, s in ax2.spines.items():
    s.set_visible(k == 'bottom')
ax2.spines['bottom'].set_color(grid_c)
ax2.spines['bottom'].set_linewidth(2.4)

ax2.legend(handles=handles, loc='center', bbox_to_anchor=(0.513, 0.941), ncol=10, frameon=False,
           handlelength=2.0, handletextpad=0.1, columnspacing=0.72,
           prop={'weight': 'bold', 'size': 23.5})

fig.text(1776 / W, 1 - 2402 / H, '年初からの国内取引日', family=JP, fontsize=20, color='#595959',
         ha='right', va='center')
fig.text(90 / W, 1 - 2433 / H, '※BloombergデータよりSBI証券作成', family=JP, fontsize=24.5,
         color='#333333', va='center', ha='left')
fig.text(90 / W, 1 - 2489 / H, '※円換算ベース、各年の最初の取引日の終値を100として指数化。信託報酬、分配金、税金等は考慮せず',
         family=JP, fontsize=24.5, color='#333333', va='center', ha='left')

fig.savefig('out.png', dpi=100, facecolor='white')
